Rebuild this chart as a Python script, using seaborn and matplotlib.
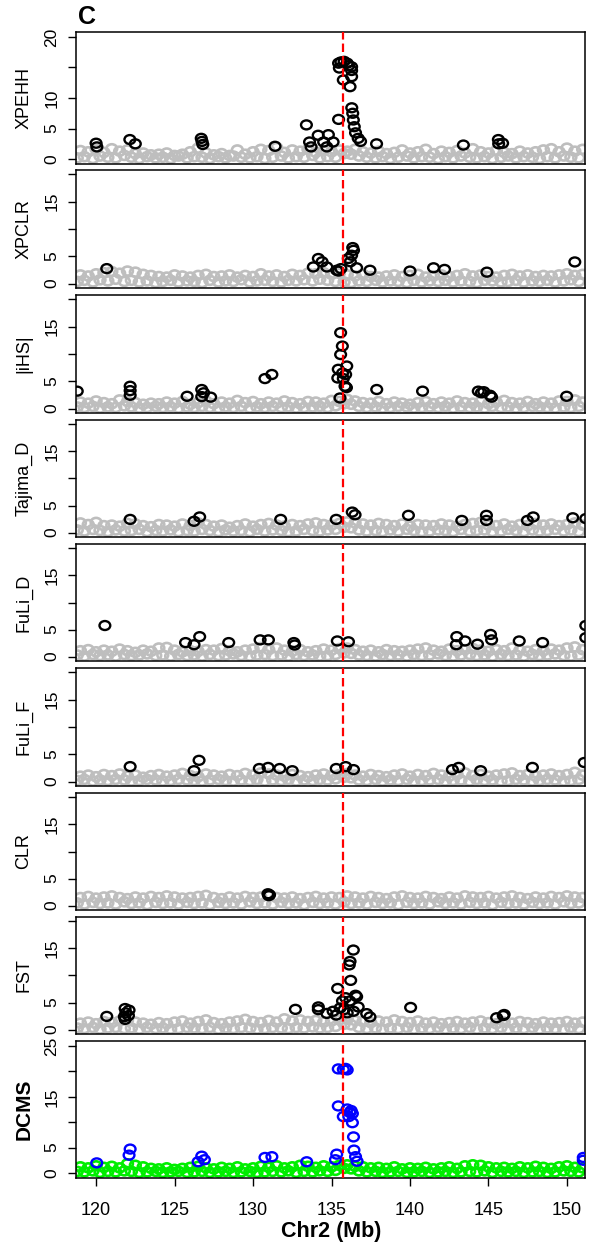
import matplotlib
matplotlib.use("Agg")
import matplotlib.pyplot as plt
from matplotlib.path import Path
from matplotlib.transforms import Affine2D
import seaborn as sns
import pandas as pd

sns.set_style("white")
plt.rcParams["font.family"] = ["Liberation Sans", "DejaVu Sans"]
for k in ["text.color", "axes.labelcolor", "xtick.color", "ytick.color", "axes.edgecolor"]:
    plt.rcParams[k] = "black"

# ---------------- data ----------------
bg_x = [119.0, 119.5, 120.0, 120.5, 121.0, 121.5, 122.0, 122.5, 123.0, 123.5,
        124.0, 124.5, 125.0, 125.5, 126.0, 126.5, 127.0, 127.5, 128.0, 128.5,
        129.0, 129.5, 130.0, 130.5, 131.0, 131.5, 132.0, 132.5, 133.0, 133.5,
        134.0, 134.5, 135.0, 135.5, 136.0, 136.5, 137.0, 137.5, 138.0, 138.5,
        139.0, 139.5, 140.0, 140.5, 141.0, 141.5, 142.0, 142.5, 143.0, 143.5,
        144.0, 144.5, 145.0, 145.5, 146.0, 146.5, 147.0, 147.5, 148.0, 148.5,
        149.0, 149.5, 150.0, 150.5, 151.0]
bg_x2 = [118.8, 119.25, 119.8, 120.25, 120.75, 121.25, 121.8, 122.25, 122.75, 123.25,
         123.8, 124.25, 124.75, 125.25, 125.8, 126.25, 126.75, 127.25, 127.8, 128.25,
         128.75, 129.25, 129.8, 130.25, 130.75, 131.25, 131.8, 132.25, 132.75, 133.25,
         133.8, 134.25, 134.75, 135.25, 135.8, 136.25, 136.75, 137.25, 137.8, 138.25,
         138.75, 139.25, 139.8, 140.25, 140.75, 141.25, 141.8, 142.25, 142.75, 143.25,
         143.8, 144.25, 144.75, 145.25, 145.8, 146.25, 146.75, 147.25, 147.8, 148.25,
         148.75, 149.25, 149.8, 150.25, 150.75]

xpehh_hi = [1.4,1.2,1.6,1.1,1.7, 1.3,1.5,0.9,1.0,0.7, 0.8,1.0,0.6,0.8,1.2, 1.8,1.0,0.7,0.9,0.6,
            1.5,0.8,1.2,1.6,1.4, 1.9,1.1,1.5,1.3,1.6, 1.1,1.4,1.2,1.5,1.3, 1.6,1.2,1.0,1.3,0.9,
            1.1,1.5,1.0,1.2,1.6, 0.9,1.3,1.1,1.4,1.0, 1.7,1.2,1.0,1.4,1.1, 0.9,1.3,1.0,1.2,1.5,
            1.7,1.2,1.8,1.3,1.6]
xpehh_lo = [0.2,0.4,0.1,0.5,0.3, 0.2,0.6,0.3,0.1,0.4, 0.2,0.3,0.1,0.5,0.2, 0.4,0.3,0.1,0.4,0.2,
            0.5,0.3,0.2,0.4,0.1, 0.3,0.5,0.2,0.4,0.3, 0.6,0.2,0.4,0.3,0.9, 0.8,0.5,0.3,0.2,0.4,
            0.1,0.3,0.5,0.2,0.4, 0.3,0.1,0.4,0.2,0.5, 0.3,0.2,0.4,0.1,0.3, 0.5,0.2,0.4,0.3,0.1,
            0.4,0.2,0.5,0.3,0.2]
xpclr_hi = [1.6,1.4,1.8,2.0,2.2, 1.9,2.3,2.1,1.7,1.5, 1.3,1.2,1.6,1.4,1.2, 1.5,1.7,1.3,1.4,1.6,
            1.2,1.5,1.3,1.8,1.4, 1.6,1.3,1.7,1.5,1.9, 1.8,2.0,1.7,1.9,1.6, 1.4,1.7,1.3,1.2,1.4,
            1.6,1.3,1.5,1.7,1.2, 1.4,1.6,1.3,1.5,1.8, 1.4,1.6,1.3,1.2,1.5, 1.7,1.4,1.6,1.3,1.5,
            1.4,1.6,1.8,1.5,1.7]
xpclr_lo = [0.4,0.6,0.3,0.7,0.5, 0.8,0.4,0.6,0.3,0.5, 0.2,0.4,0.6,0.3,0.5, 0.4,0.2,0.6,0.3,0.5,
            0.4,0.7,0.3,0.5,0.6, 0.4,0.3,0.6,0.5,0.7, 0.5,0.8,0.6,0.4,0.3, 0.2,0.5,0.4,0.6,0.3,
            0.5,0.4,0.2,0.6,0.3, 0.5,0.4,0.6,0.3,0.5, 0.4,0.2,0.6,0.5,0.3, 0.4,0.6,0.3,0.5,0.4,
            0.6,0.3,0.5,0.7,0.4]
ihs_hi = [1.2,1.0,1.4,1.1,0.9, 1.6,1.3,1.1,0.8,1.0, 0.9,1.2,1.0,1.3,0.8, 1.1,1.4,0.9,1.2,1.0,
          1.5,1.1,1.3,0.9,1.2, 1.0,1.4,1.1,0.9,1.3, 1.2,1.0,1.5,1.3,1.7, 1.4,1.1,1.0,1.3,0.9,
          1.2,1.0,0.8,1.1,1.3, 0.9,1.2,1.0,1.4,1.1, 1.0,1.3,0.9,1.2,1.5, 1.1,1.0,1.3,0.9,1.2,
          1.0,1.4,1.3,1.6,1.2]
ihs_lo = [0.3,0.2,0.4,0.1,0.3, 0.2,0.5,0.3,0.1,0.2, 0.4,0.2,0.3,0.1,0.3, 0.2,0.4,0.2,0.1,0.3,
          0.2,0.4,0.1,0.3,0.2, 0.4,0.2,0.3,0.1,0.2, 0.3,0.4,0.2,0.5,0.9, 0.8,0.4,0.2,0.3,0.1,
          0.2,0.4,0.3,0.1,0.2, 0.3,0.2,0.4,0.1,0.3, 0.2,0.3,0.1,0.4,0.2, 0.3,0.1,0.2,0.4,0.3,
          0.2,0.1,0.3,0.2,0.4]
taj_hi = [1.8,1.5,1.9,1.3,1.4, 1.2,1.7,1.6,1.3,1.1, 1.5,1.4,1.2,1.6,1.3, 1.8,1.5,1.2,1.4,1.0,
          1.3,1.6,1.2,1.5,1.7, 1.4,1.2,1.5,1.3,1.6, 1.8,1.5,1.4,1.7,2.0, 1.8,1.6,1.4,1.7,1.5,
          1.3,1.6,1.2,1.5,1.4, 1.3,1.6,1.4,1.2,1.5, 1.7,1.9,1.4,1.3,1.6, 1.2,1.5,1.3,1.7,1.4,
          1.6,1.3,1.5,1.8,1.4]
taj_lo = [0.5,0.3,0.6,0.4,0.2, 0.5,0.3,0.4,0.6,0.2, 0.4,0.3,0.5,0.2,0.4, 0.3,0.6,0.4,0.2,0.5,
          0.3,0.4,0.2,0.6,0.3, 0.5,0.4,0.2,0.3,0.6, 0.4,0.3,0.5,0.6,1.0, 0.9,0.5,0.3,0.4,0.2,
          0.5,0.3,0.6,0.4,0.2, 0.3,0.5,0.4,0.2,0.6, 0.3,0.4,0.5,0.2,0.3, 0.6,0.4,0.2,0.5,0.3,
          0.4,0.6,0.3,0.5,0.2]
fulid_hi = [1.1,1.3,0.9,1.2,1.0, 1.4,1.1,0.8,1.2,1.0, 1.6,1.7,1.2,0.9,1.1, 1.0,1.3,1.2,1.5,1.1,
            0.9,1.2,1.4,1.7,1.3, 1.6,1.2,1.0,1.3,0.9, 1.1,1.4,1.2,1.5,1.6, 1.3,1.0,1.2,0.9,1.3,
            1.1,1.0,1.2,1.4,1.6, 1.2,1.0,1.4,1.1,1.3, 1.5,1.2,1.0,1.3,1.1, 1.6,1.2,1.0,1.3,1.1,
            1.4,1.2,1.6,1.8,1.3]
fulid_lo = [0.3,0.1,0.4,0.2,0.3, 0.1,0.4,0.2,0.3,0.5, 0.2,0.3,0.1,0.4,0.2, 0.3,0.1,0.4,0.2,0.3,
            0.5,0.2,0.1,0.3,0.4, 0.2,0.3,0.1,0.4,0.2, 0.3,0.1,0.2,0.4,0.7, 0.6,0.3,0.2,0.1,0.4,
            0.2,0.3,0.1,0.4,0.2, 0.3,0.5,0.2,0.1,0.3, 0.4,0.2,0.3,0.1,0.4, 0.2,0.3,0.1,0.4,0.2,
            0.3,0.5,0.2,0.1,0.3]
fulif_hi = [1.0,1.2,0.9,1.3,1.1, 1.4,1.0,1.2,0.8,1.1, 1.3,1.0,1.2,1.5,1.1, 0.9,1.4,1.2,1.0,1.3,
            1.1,1.5,1.2,1.6,1.4, 1.2,1.0,1.3,1.1,0.9, 1.2,1.4,1.1,1.3,1.5, 1.2,1.0,1.3,1.1,0.9,
            1.2,1.4,1.0,1.3,1.1, 1.5,1.2,1.0,1.3,1.6, 1.1,1.3,1.0,1.2,1.4, 1.6,1.1,1.3,1.0,1.2,
            1.4,1.1,1.3,1.7,1.2]
fulif_lo = [0.2,0.4,0.1,0.3,0.2, 0.4,0.3,0.1,0.2,0.4, 0.3,0.1,0.2,0.4,0.3, 0.2,0.1,0.3,0.4,0.2,
            0.1,0.3,0.2,0.4,0.1, 0.3,0.2,0.4,0.1,0.3, 0.2,0.4,0.3,0.5,0.8, 0.7,0.3,0.2,0.4,0.1,
            0.3,0.2,0.4,0.1,0.2, 0.3,0.4,0.1,0.2,0.3, 0.1,0.4,0.2,0.3,0.1, 0.2,0.4,0.3,0.1,0.2,
            0.4,0.3,0.1,0.2,0.4]
clr_hi = [1.5,1.7,1.4,1.6,1.8, 1.5,1.3,1.6,1.4,1.7, 1.5,1.8,1.6,1.4,1.5, 1.7,1.9,1.5,1.3,1.6,
          1.4,1.7,1.5,1.6,1.8, 1.5,1.4,1.6,1.3,1.5, 1.7,1.4,1.6,1.5,1.8, 1.6,1.4,1.7,1.5,1.3,
          1.6,1.8,1.5,1.4,1.7, 1.5,1.3,1.6,1.4,1.8, 1.6,1.5,1.7,1.4,1.6, 1.8,1.5,1.3,1.6,1.4,
          1.7,1.5,1.8,1.6,1.5]
clr_lo = [0.5,0.3,0.6,0.4,0.5, 0.3,0.7,0.4,0.5,0.2, 0.6,0.4,0.5,0.3,0.6, 0.4,0.5,0.2,0.6,0.4,
          0.5,0.3,0.7,0.4,0.5, 0.3,0.6,0.4,0.5,0.2, 0.6,0.4,0.5,0.3,0.7, 0.4,0.5,0.3,0.6,0.4,
          0.5,0.2,0.6,0.4,0.5, 0.3,0.7,0.4,0.5,0.3, 0.6,0.4,0.5,0.2,0.6, 0.4,0.5,0.3,0.6,0.4,
          0.5,0.3,0.7,0.4,0.5]
fst_hi = [1.2,1.4,1.1,1.5,1.3, 1.6,1.7,1.4,1.2,1.0, 1.3,1.1,1.4,1.6,1.2, 1.5,1.8,1.3,1.1,1.4,
          1.6,1.9,1.5,1.3,1.7, 1.4,2.0,1.6,1.8,1.5, 1.7,1.4,1.6,1.8,1.9, 1.7,1.5,1.3,1.6,1.4,
          1.8,1.5,1.3,1.6,1.2, 1.4,1.1,1.3,1.5,1.2, 1.4,1.6,1.3,1.1,1.4, 1.2,1.5,1.3,1.1,1.4,
          1.2,1.3,1.5,1.2,1.4]
fst_lo = [0.3,0.2,0.4,0.1,0.3, 0.4,0.2,0.3,0.1,0.4, 0.2,0.3,0.1,0.2,0.4, 0.3,0.2,0.4,0.1,0.3,
          0.2,0.4,0.3,0.1,0.2, 0.4,0.3,0.2,0.4,0.3, 0.5,0.3,0.4,0.6,1.0, 0.9,0.4,0.2,0.3,0.1,
          0.3,0.2,0.4,0.1,0.3, 0.2,0.4,0.1,0.3,0.2, 0.4,0.1,0.3,0.2,0.4, 0.1,0.3,0.2,0.4,0.1,
          0.3,0.2,0.1,0.4,0.2]
dcms_hi = [1.2,1.0,1.4,1.1,1.3, 1.0,1.8,1.5,1.2,0.9, 0.8,1.0,0.7,0.9,1.1, 1.3,1.0,0.8,1.1,0.9,
           1.2,0.8,1.0,1.3,1.1, 1.4,1.0,1.2,1.5,1.3, 1.1,1.4,1.2,1.5,1.6, 1.3,1.2,1.0,1.1,0.9,
           1.2,0.8,1.0,0.9,1.1, 0.8,1.0,1.2,0.9,1.4, 1.6,1.5,1.2,1.0,1.1, 0.9,1.2,1.0,1.3,1.1,
           0.9,1.2,1.4,1.1,1.0]
dcms_lo = [0.3,0.2,0.4,0.1,0.3, 0.2,0.4,0.3,0.1,0.2, 0.3,0.1,0.2,0.3,0.1, 0.2,0.3,0.1,0.2,0.3,
           0.1,0.2,0.3,0.1,0.2, 0.3,0.2,0.4,0.1,0.3, 0.2,0.4,0.3,0.5,0.9, 0.8,0.4,0.2,0.3,0.1,
           0.2,0.3,0.1,0.2,0.3, 0.1,0.2,0.3,0.1,0.2, 0.3,0.2,0.4,0.1,0.3, 0.2,0.3,0.1,0.2,0.3,
           0.1,0.2,0.4,0.3,0.2]

# significant (highlighted) points
xpehh_sx = [120.0,120.05,122.15,122.5,126.7,126.75,126.8,131.4,133.4,133.6,133.7,134.15,134.5,
            134.8,134.7,135.1,135.45,135.45,135.6,135.8,136.0,136.1,136.28,136.28,135.5,135.75,
            136.28,136.18,136.29,136.35,136.39,136.45,136.53,136.7,136.85,137.87,143.4,145.63,
            145.9,145.65]
xpehh_sy = [2.6,2.0,3.2,2.5,3.4,2.9,2.4,2.1,5.6,2.8,2.0,3.9,2.8,
            4.0,2.0,2.8,6.5,15.7,15.9,16.0,15.7,15.3,15.1,14.5,14.9,12.95,
            13.5,11.85,8.4,7.5,6.4,5.3,4.3,3.4,2.9,2.5,2.3,3.2,
            2.6,2.5]
xpclr_sx = [120.68,133.84,134.16,134.4,134.7,135.33,135.6,135.45,136.07,136.28,136.35,136.4,
            136.2,136.6,137.45,140.0,141.5,142.2,144.9,150.5]
xpclr_sy = [2.75,3.05,4.6,4.0,3.05,2.45,2.75,2.3,4.6,5.2,6.6,6.1,
            4.0,2.9,2.45,2.3,2.9,2.6,2.1,3.97]
ihs_sx = [118.8,122.17,122.17,122.17,125.8,126.73,126.85,126.73,127.3,130.76,131.2,135.58,
          135.69,135.58,135.43,135.97,135.7,135.9,135.4,135.75,135.86,135.95,135.54,137.88,
          140.8,144.35,144.55,144.7,145.1,145.2,149.98]
ihs_sy = [3.2,4.1,3.3,2.45,2.26,3.5,2.9,2.2,2.1,5.5,6.25,13.9,
          11.45,9.9,7.2,7.8,6.5,6.25,5.6,5.5,4.1,3.85,1.95,3.5,
          3.2,3.2,2.9,3.1,2.45,2.1,2.26]
taj_sx = [122.17,126.24,126.6,131.76,135.3,136.32,136.5,139.9,143.3,144.87,144.87,147.48,
          147.85,150.37,151.2]
taj_sy = [2.45,2.1,2.9,2.45,2.45,3.8,3.3,3.2,2.26,3.2,2.26,2.26,
          2.9,2.75,2.6]
fulid_sx = [120.56,125.7,126.24,126.6,128.45,130.45,130.98,132.6,132.65,135.37,136.08,142.98,
            142.95,143.5,144.3,145.13,145.2,146.96,148.45,151.2,151.2]
fulid_sy = [5.75,2.6,2.2,3.7,2.6,3.1,3.1,2.6,2.15,2.9,2.75,3.7,
            2.2,2.9,2.3,4.1,3.1,2.9,2.6,5.75,3.5]
fulif_sx = [122.17,126.24,126.56,130.4,130.96,131.7,132.5,135.3,135.9,136.4,142.7,143.1,
            144.5,147.8,151.1]
fulif_sy = [2.75,2.0,3.9,2.4,2.6,2.4,2.0,2.4,2.75,2.2,2.2,2.6,
            2.0,2.6,3.5]
clr_sx = [130.95,131.05,131.0]
clr_sy = [2.2,2.0,1.85]
fst_sx = [120.68,121.85,121.9,121.8,122.06,121.85,122.1,132.7,136.39,136.18,136.13,136.22,
          135.39,136.53,136.6,135.9,135.7,136.16,136.7,134.16,134.16,135.55,135.1,134.7,
          135.3,135.8,136.0,136.4,137.24,137.45,140.04,145.52,145.94,146.0]
fst_sy = [2.45,3.9,3.1,2.4,2.6,1.9,3.6,3.75,14.7,12.6,11.95,9.1,
          7.6,6.35,6.1,5.9,5.3,5.3,4.2,4.2,3.7,4.0,3.4,3.0,
          2.7,3.7,3.1,3.4,2.96,2.35,4.1,2.2,2.6,2.8]
dcms_sx = [120.04,122.17,122.1,126.73,126.5,126.9,130.76,131.2,133.42,135.33,135.25,135.43,
           135.75,136.0,135.9,135.43,135.75,136.0,136.17,136.25,136.33,136.1,136.33,136.4,
           136.43,136.53,136.63,151.04,151.04]
dcms_sy = [1.98,4.7,3.5,3.3,2.2,2.6,3.05,3.2,2.2,3.7,2.6,20.5,
           20.4,20.3,20.6,13.2,11.1,12.6,11.9,12.3,11.7,11.1,9.9,7.1,
           4.5,3.2,2.3,3.05,2.5]

panel_names = ["XPEHH", "XPCLR", "|iHS|", "Tajima_D", "FuLi_D", "FuLi_F", "CLR", "FST", "DCMS"]
x_ticks = [120, 125, 130, 135, 140, 145, 150]
peak_pos = 135.75

# ---------------- layout ----------------
W, H = 589, 1247
fig = plt.figure(figsize=(W / 100, H / 100), dpi=100)

# (top_px, bottom_px) for each panel
boxes = [(32, 164), (170, 288), (295, 413), (420, 537), (544, 661),
         (668, 786), (793, 910), (917, 1034), (1041, 1178)]
L_PX, R_PX = 76, 585

bg_hi = [xpehh_hi, xpclr_hi, ihs_hi, taj_hi, fulid_hi, fulif_hi, clr_hi, fst_hi, dcms_hi]
bg_lo = [xpehh_lo, xpclr_lo, ihs_lo, taj_lo, fulid_lo, fulif_lo, clr_lo, fst_lo, dcms_lo]
sig_x = [xpehh_sx, xpclr_sx, ihs_sx, taj_sx, fulid_sx, fulif_sx, clr_sx, fst_sx, dcms_sx]
sig_y = [xpehh_sy, xpclr_sy, ihs_sy, taj_sy, fulid_sy, fulif_sy, clr_sy, fst_sy, dcms_sy]

GRAY = "#BEBEBE"
# slightly wide ring, as in the (horizontally stretched) original
oval = Path.unit_circle().transformed(Affine2D().scale(1.2, 1.0))
ring_bg = dict(s=60, linewidth=1.9, marker=oval, legend=False)
ring_sg = dict(s=60, linewidth=1.7, marker=oval, legend=False)

for i, name in enumerate(panel_names):
    top, bot = boxes[i]
    ax = fig.add_axes([L_PX / W, 1 - bot / H, (R_PX - L_PX) / W, (bot - top) / H])
    last = (i == len(panel_names) - 1)
    bgc = "#00EE00" if last else GRAY
    sgc = "#0000FF" if last else "black"

    bg = pd.DataFrame({"pos": bg_x2 + bg_x, "val": bg_lo[i] + bg_hi[i]})
    sns.scatterplot(data=bg, x="pos", y="val", ax=ax, color=bgc,
                    facecolor="none", edgecolor=bgc, zorder=2, **ring_bg)
    sg = pd.DataFrame({"pos": sig_x[i], "val": sig_y[i]})
    sns.scatterplot(data=sg, x="pos", y="val", ax=ax, color=sgc,
                    facecolor="none", edgecolor=sgc, zorder=3, **ring_sg)
    ax.axvline(peak_pos, color="#FF0000", linestyle=(0, (3.8, 1.8)), linewidth=1.6, zorder=4)

    ax.set_xlim(118.72, 151.15)
    if last:
        ax.set_ylim(-1.0, 26.0)
        yt = [0, 5, 10, 15, 20, 25]
        yl = ["0", "5", "", "15", "", "25"]
    else:
        ax.set_ylim(-0.8, 20.8)
        yt = [0, 5, 10, 15, 20]
        yl = ["0", "5", "10", "", "20"] if i == 0 else ["0", "5", "", "15", ""]
    ax.set_yticks(yt)
    ax.set_yticklabels(yl, rotation=90, va="center")
    ax.tick_params(axis="y", direction="out", length=6, width=1.0, labelsize=12.5,
                   pad=6, left=True, color="black", labelcolor="black")
    ax.set_xlabel("")
    ax.set_ylabel("")
    for sp in ax.spines.values():
        sp.set_color("black")
        sp.set_linewidth(1.1)
        sp.set_visible(True)
    ax.set_facecolor("white")
    if last:
        ax.set_xticks(x_ticks)
        ax.set_xticklabels([str(t) for t in x_ticks])
        ax.tick_params(axis="x", direction="out", length=6, width=1.0, labelsize=13,
                       pad=11, bottom=True, color="black", labelcolor="black")
    else:
        ax.set_xticks([])

    yc = (top + bot) / 2
    if last:
        fig.text(24 / W, 1 - yc / H, name, rotation=90, ha="center", va="center",
                 fontsize=15, fontweight="bold", color="black")
    else:
        fig.text(24 / W, 1 - yc / H, name, rotation=90, ha="center", va="center",
                 fontsize=13, color="black")

fig.text(331 / W, 1 - 1232 / H, "Chr2 (Mb)", ha="center", va="center",
         fontsize=15.5, fontweight="bold", color="black")
fig.text(87 / W, 1 - 17 / H, "C", ha="center", va="center", fontsize=18,
         fontweight="bold", color="black")

fig.savefig("out.png", dpi=100)
